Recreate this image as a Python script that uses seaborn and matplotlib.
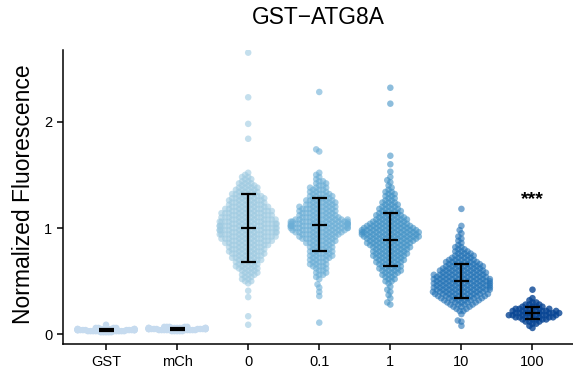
import numpy as np
import pandas as pd
import matplotlib
matplotlib.use("Agg")
import matplotlib.pyplot as plt
import seaborn as sns

sns.set_style("ticks")
plt.rcParams['font.family'] = ['Liberation Sans', 'DejaVu Sans']
plt.rcParams['text.color'] = 'black'
plt.rcParams['axes.labelcolor'] = 'black'

groups = ["GST", "mCh", "0", "0.1", "1", "10", "100"]
colors = ["#c6dbef", "#c6dbef", "#9ecae1", "#6baed6", "#4292c6", "#2171b5", "#084594"]

gst_start, gst_step = 0.02, 0.01
gst_counts = [5, 10, 12, 9, 4]
gst_extra = [0.09]

mch_start, mch_step = 0.03, 0.01
mch_counts = [5, 10, 12, 9, 5]
mch_extra = []

c0_start, c0_step = 0.48, 0.02
c0_counts = [1, 2, 2, 2, 3, 3, 3, 4, 4, 4, 4, 5, 5, 5, 6, 6, 6, 6, 7, 7, 8, 8, 9, 9, 10, 10,
             10, 10, 10, 9, 9, 8, 8, 8, 8, 7, 7, 6, 6, 6, 6, 5, 5, 4, 4, 4, 3, 3, 2, 2, 2, 1, 1]
c0_extra = [2.65, 2.23, 1.98, 1.84, 0.41, 0.35, 0.17, 0.09]

c01_start, c01_step = 0.52, 0.02
c01_counts = [1, 1, 2, 2, 2, 2, 3, 3, 3, 3, 4, 4, 4, 4, 4, 4, 4, 5, 5, 6, 6, 7, 8, 9, 11, 12,
              12, 11, 9, 7, 6, 6, 6, 6, 6, 5, 5, 5, 4, 4, 4, 3, 3, 3, 2, 2, 2, 1, 1, 1, 1]
c01_extra = [2.28, 1.74, 1.72, 0.47, 0.44, 0.40, 0.36, 0.11]

c1_start, c1_step = 0.48, 0.02
c1_counts = [1, 2, 2, 2, 3, 3, 4, 4, 4, 4, 5, 5, 5, 6, 6, 6, 6, 7, 7, 8, 8, 9, 10, 10, 11, 10,
             9, 8, 7, 6, 6, 5, 5, 4, 4, 4, 3, 3, 3, 2, 2, 2, 2, 2, 1, 1, 1]
c1_extra = [2.32, 2.17, 1.68, 1.60, 1.53, 1.48, 1.45, 1.43, 0.45, 0.42, 0.40, 0.37, 0.34, 0.30, 0.28]

c10_start, c10_step = 0.22, 0.02
c10_counts = [2, 2, 3, 4, 5, 6, 7, 8, 9, 9, 10, 10, 10, 10, 10, 10, 9, 9, 8, 8, 7, 7, 6, 6, 5, 4,
              4, 3, 3, 2, 2, 1, 1, 1]
c10_extra = [1.18, 1.02, 0.98, 0.95, 0.92, 0.90, 0.19, 0.13, 0.12, 0.08]

c100_start, c100_step = 0.08, 0.02
c100_counts = [1, 2, 3, 5, 7, 8, 8, 7, 6, 4, 3, 2, 1, 1]
c100_extra = [0.42, 0.06]

# mean and SD bars as drawn on the chart
bar_mean = [0.04, 0.05, 1.00, 1.03, 0.89, 0.50, 0.20]
bar_sd = [0.008, 0.008, 0.32, 0.25, 0.25, 0.16, 0.06]

body = [(gst_start, gst_step, gst_counts, gst_extra),
        (mch_start, mch_step, mch_counts, mch_extra),
        (c0_start, c0_step, c0_counts, c0_extra),
        (c01_start, c01_step, c01_counts, c01_extra),
        (c1_start, c1_step, c1_counts, c1_extra),
        (c10_start, c10_step, c10_counts, c10_extra),
        (c100_start, c100_step, c100_counts, c100_extra)]

rows = []
for name, (start, step, counts, extra) in zip(groups, body):
    levels = np.round(start + step * np.arange(len(counts)), 3)
    vals = list(np.repeat(levels, counts)) + list(extra)
    for v in vals:
        rows.append({"conc": name, "value": v})
df = pd.DataFrame(rows)
controls = df["conc"].isin(["GST", "mCh"])

fig = plt.figure(figsize=(5.73, 3.69), dpi=100)
ax = fig.add_axes([0.1094, 0.0669, 0.8906, 0.7976])

# controls are packed tighter (flat band), treatments with the normal spacing
sns.swarmplot(data=df[controls], x="conc", y="value", hue="conc", order=groups,
              hue_order=groups, palette=colors, size=1.8, alpha=1.0, linewidth=0,
              legend=False, warn_thresh=1, ax=ax)
sns.swarmplot(data=df[~controls], x="conc", y="value", hue="conc", order=groups,
              hue_order=groups, palette=colors, size=2.6, alpha=0.6, linewidth=0,
              legend=False, warn_thresh=1, ax=ax)
swarms = list(ax.collections)

ax.set_xlim(-0.61, 6.57)
ax.set_ylim(-0.094, 2.675)

# lay the swarm out with the small size, then draw the dots bigger so they overlap
fig.canvas.draw()
for pts in swarms:
    if "draw" in pts.__dict__:
        del pts.draw
    pts.set_sizes([4.7 ** 2])
# the 100 swarm is the most crowded one, so it reads much darker
swarms[-1].set_alpha(0.8)

ax.errorbar(x=np.arange(len(groups)), y=bar_mean, yerr=bar_sd, fmt="_", color="black",
            markersize=10.8, mew=1.6, elinewidth=1.6, capsize=5.4, capthick=1.6, zorder=5)

ax.text(6, 1.27, "***", ha="center", va="center", fontsize=14, fontweight="bold")

ax.set_title("GST\u2212ATG8A", fontsize=16.4, pad=19)
ax.set_xlabel("")
ax.set_ylabel("Normalized Fluorescence", fontsize=16.5)
ax.yaxis.set_label_coords(-0.055, 0.51)
ax.set_yticks([0, 1, 2])
ax.tick_params(labelsize=10.5, length=4, width=1.1, colors="black")
sns.despine(ax=ax)
for s in ["left", "bottom"]:
    ax.spines[s].set_linewidth(1.1)
    ax.spines[s].set_color("black")

fig.savefig("out.png", dpi=100)
